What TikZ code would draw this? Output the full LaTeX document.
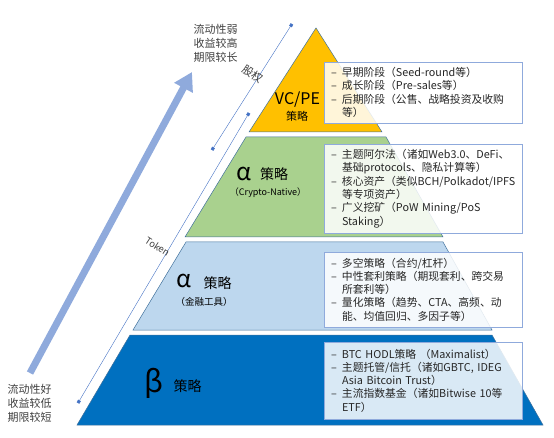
\documentclass[tikz,border=0pt]{standalone}
\usepackage{fontspec}
\setmainfont{Noto Sans CJK SC}
\usetikzlibrary{arrows.meta}
\definecolor{vcgold}{HTML}{FFC000}
\definecolor{cryptogreen}{HTML}{A9D18E}
\definecolor{finblue}{HTML}{BDD7EE}
\definecolor{betablue}{HTML}{0070C0}
\definecolor{tieredge}{HTML}{41719C}
\definecolor{boxedge}{HTML}{8FAADC}
\definecolor{arrowblue}{HTML}{8FAADC}
\definecolor{guideblue}{HTML}{4472C4}
\definecolor{boxtext}{HTML}{262626}
\definecolor{sidetext}{HTML}{404040}
\newcommand{\itm}{\makebox[11pt][l]{–}}
\newcommand{\cnt}{\hspace*{11pt}}
\newcommand{\fsz}[1]{\fontsize{#1}{#1}\selectfont}

\begin{document}
\begin{tikzpicture}[x=1pt,y=-1pt,
    tier/.style={draw=tieredge,line width=0.5pt},
    infobox/.style={draw=boxedge,line width=0.6pt,fill=white,fill opacity=0.85,text opacity=1,
        text=boxtext,text width=184pt,inner xsep=7pt,inner ysep=0pt,align=left,
        font=\fontsize{10.8}{13.3}\selectfont},
    tierlbl/.style={inner sep=0pt,text=black},
    sidelbl/.style={inner sep=0pt,text=sidetext,align=left,font=\fontsize{11}{14}\selectfont},
    bigarrow/.style={draw=arrowblue,line width=7pt,-{Triangle[width=20pt,length=18pt]}},
    guide/.style={draw=guideblue,line width=0.4pt,
        {Square[length=3pt,width=3pt]}-{Square[length=3pt,width=3pt]}}]
    \useasboundingbox (0,0) rectangle (554,438);

    \filldraw[tier,fill=betablue] (130,335) -- (492,335) -- (543,425) -- (77,425) -- cycle;
    \filldraw[tier,fill=finblue] (186,242) -- (443,242) -- (492,330) -- (133,330) -- cycle;
    \filldraw[tier,fill=cryptogreen] (246,137) -- (386,137) -- (443,237) -- (185,237) -- cycle;
    \filldraw[tier,fill=vcgold] (316,28) -- (382,132) -- (249,132) -- cycle;

    \node[tierlbl,font=\fsz{16}] (vcpe) at (297.5,100) {VC/PE};
    \node[tierlbl,font=\fsz{11}] (vcstrat) at (297,116) {策略};
    \node[tierlbl,font=\fsz{24}] (cryalpha) at (244,173.5) {α};
    \node[tierlbl,font=\fsz{14}] (crystrat) at (274,174) {策略};
    \node[tierlbl,font=\fsz{9}] (crynative) at (268,193) {（Crypto-Native）};
    \node[tierlbl,font=\fsz{24}] (finalpha) at (183.5,281) {α};
    \node[tierlbl,font=\fsz{14}] (finstrat) at (217.5,283) {策略};
    \node[tierlbl,font=\fsz{9.5}] (fintool) at (204,302) {（金融工具）};
    \node[tierlbl,font=\fsz{30}] (beta) at (153.5,383) {β};
    \node[tierlbl,font=\fsz{14}] (betastrat) at (187.5,386) {策略};

    \node[infobox,minimum height=61pt] (vcbox) at (423,92.5)
        {\itm 早期阶段（Seed-round等）\\\itm 成长阶段（Pre-sales等）\\
         \itm 后期阶段（公售、战略投资及收购\\\cnt 等）};
    \node[infobox,minimum height=89pt] (crybox) at (423,188.5)
        {\itm 主题阿尔法（诸如Web3.0、DeFi、\\\cnt 基础protocols、隐私计算等）\\
         \itm 核心资产（类似BCH/Polkadot/IPFS\\\cnt 等专项资产）\\
         \itm 广义挖矿（PoW Mining/PoS\\\cnt Staking）};
    \node[infobox,minimum height=75pt] (finbox) at (423,289.5)
        {\itm 多空策略（合约/杠杆）\\\itm 中性套利策略（期现套利、跨交易\\
         \cnt 所套利等）\\\itm 量化策略（趋势、CTA、高频、动\\\cnt 能、均值回归、多因子等）};
    \node[infobox,minimum height=77pt] (betabox) at (423,380.5)
        {\itm BTC HODL策略 （Maximalist）\\\itm 主题托管/信托（诸如GBTC, IDEG\\
         \cnt Asia Bitcoin Trust）\\\itm 主流指数基金（诸如Bitwise 10等\\\cnt ETF）};

    \node[sidelbl] (weakliq) at (215.5,43) {流动性弱\\收益较高\\期限较长};
    \node[sidelbl] (goodliq) at (29.5,403) {流动性好\\收益较低\\期限较短};
    \coordinate (liqlow) at (30,373);
    \coordinate (liqhigh) at (192,72);
    \draw[bigarrow] (liqlow) -- (liqhigh);

    \coordinate (eqtop) at (292,24);
    \coordinate (eqbot) at (212,150);
    \coordinate (tktop) at (249,113);
    \coordinate (tkbot) at (78,403);
    \draw[guide] (eqtop) -- (eqbot);
    \draw[guide] (tktop) -- (tkbot);
    \node[tierlbl,text=sidetext,font=\fsz{11},rotate=-33] (equity) at (252.5,74.5) {股权};
    \node[tierlbl,text=sidetext,font=\fsz{9.5},rotate=-33] (token) at (157.5,246.5) {Token};
\end{tikzpicture}
\end{document}
